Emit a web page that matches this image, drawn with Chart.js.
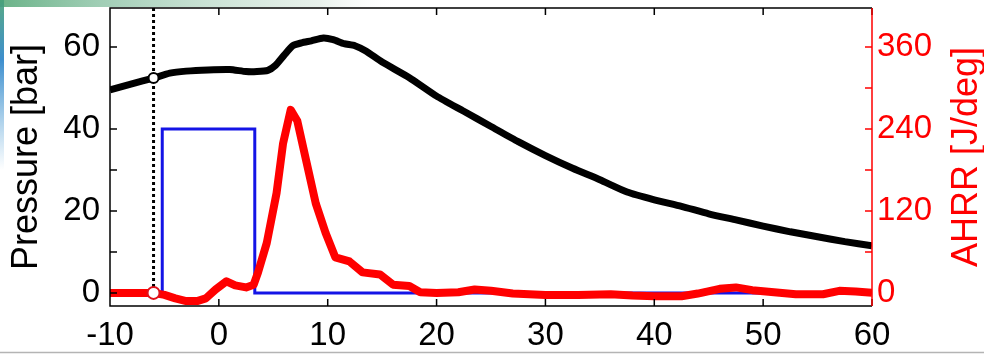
<!DOCTYPE html>
<html>
<head>
<meta charset="utf-8">
<script src="https://cdn.jsdelivr.net/npm/chart.js@4/dist/chart.umd.min.js"></script>
<style>
  body { margin: 0; background: #fff; }
</style>
</head>
<body>
<canvas id="myChart" width="984" height="354"></canvas>
<script>
// crank angle [deg] / cylinder pressure [bar]
const pressureAngle = [-10, -8, -6, -4.5, -3, -1, 1, 2.5, 3.5, 4.5, 5.2, 6, 6.8, 7.6, 8.5, 9.6, 10.5, 11.5, 12.5, 13.5, 15, 17.5, 20, 22.5, 25, 27.5, 30, 32.5, 35, 37.5, 40, 42.5, 45, 47.5, 50, 52.5, 55, 57.5, 60];
const pressureBar = [49.5, 51, 52.4, 53.6, 54.1, 54.4, 54.5, 54.0, 54.0, 54.3, 55.5, 58, 60.3, 61, 61.5, 62.2, 61.8, 60.8, 60.3, 59, 56.3, 52.5, 48.0, 44.3, 40.6, 36.9, 33.5, 30.4, 27.6, 24.6, 22.7, 21.1, 19.3, 17.8, 16.3, 14.9, 13.7, 12.5, 11.5];

// apparent heat release rate [J/deg]
const ahrrAngle = [-10, -6, -5, -4, -3, -2, -1.2, -0.3, 0.7, 1.5, 2.5, 3.2, 3.6, 4.4, 5.3, 5.9, 6.6, 7.2, 8.0, 8.9, 9.8, 10.7, 12.0, 13.2, 14.8, 16.0, 17.5, 18.5, 20, 22, 23.5, 25, 27, 30, 33, 36, 38, 40, 42.5, 44, 46, 47.5, 49, 51, 53, 55.5, 57, 58.5, 60];
const ahrrValue = [0, 0, -3, -8, -12, -12, -8, 5, 17, 11, 8, 12, 30, 73, 146, 219, 268, 252, 195, 131, 88, 52, 46, 30, 27, 12, 10, 1, 0, 1, 5, 3, -1, -3, -3, -2, -4, -5, -5, -1, 6, 8, 4, 1, -2, -2, 3, 2, 0];

// injector command signal, plotted on the pressure axis
const injAngle = [-10, -5.2, -5.2, 3.3, 3.3, 60];
const injSignal = [0, 0, 40, 40, 0, 0];

// start of combustion marker
const socAngle = -6;
const socPressure = 52.4;
const socAhrr = 0;

const angleTicks = [-10, 0, 10, 20, 30, 40, 50, 60];
const pressureTicks = [0, 10, 20, 30, 40, 50, 60];
const pressureLabels = [0, 20, 40, 60];
const ahrrTicks = [0, 60, 120, 180, 240, 300, 360];
const ahrrLabels = [0, 120, 240, 360];

const FONT = "'Liberation Sans', Arial, sans-serif";
const RED = '#ff0000';

const toPoints = (xs, ys) => xs.map((x, i) => ({ x: x, y: ys[i] }));

// fixed axis boxes so the plot area sits where it should
const fixWidth = w => scale => {
  scale.width = w;
  scale.paddingTop = 0;
  scale.paddingBottom = 0;
};
const fixHeight = h => scale => {
  scale.height = h;
  scale.paddingLeft = 0;
  scale.paddingRight = 0;
};

// frame, inward tick marks, right-hand title and the slide background
const frame = {
  id: 'frame',
  beforeDraw(chart) {
    const { ctx, width } = chart;
    ctx.save();
    ctx.fillStyle = '#fff';
    ctx.fillRect(0, 0, width, chart.height);
    let g = ctx.createLinearGradient(0, 0, 400, 0);
    g.addColorStop(0, 'rgba(80,165,115,0.85)');
    g.addColorStop(0.25, 'rgba(120,185,150,0.7)');
    g.addColorStop(0.8, 'rgba(190,215,200,0.35)');
    g.addColorStop(1, 'rgba(255,255,255,0)');
    ctx.fillStyle = g;
    ctx.fillRect(0, 0, 400, 7);
    g = ctx.createLinearGradient(0, 0, 0, 170);
    g.addColorStop(0, 'rgba(70,160,120,0.9)');
    g.addColorStop(0.35, 'rgba(40,130,200,0.9)');
    g.addColorStop(1, 'rgba(60,150,210,0)');
    ctx.fillStyle = g;
    ctx.fillRect(0, 0, 4, 170);
    ctx.strokeStyle = '#b4b4b4';
    ctx.lineWidth = 1.5;
    ctx.beginPath();
    ctx.moveTo(0, 352.5);
    ctx.lineTo(width, 352.5);
    ctx.stroke();
    ctx.restore();
  },
  afterDraw(chart) {
    const { ctx, chartArea: a, scales } = chart;
    const len = 7;
    ctx.save();
    ctx.lineWidth = 1.5;
    ctx.strokeStyle = '#000';
    ctx.beginPath();
    angleTicks.forEach(v => {
      const px = scales.x.getPixelForValue(v);
      ctx.moveTo(px, a.bottom); ctx.lineTo(px, a.bottom - len);
      ctx.moveTo(px, a.top); ctx.lineTo(px, a.top + len);
    });
    pressureTicks.forEach(v => {
      const py = scales.y.getPixelForValue(v);
      ctx.moveTo(a.left, py); ctx.lineTo(a.left + len, py);
    });
    ctx.moveTo(a.right, a.top);
    ctx.lineTo(a.left, a.top);
    ctx.lineTo(a.left, a.bottom);
    ctx.lineTo(a.right, a.bottom);
    ctx.stroke();

    ctx.strokeStyle = RED;
    ctx.beginPath();
    ahrrTicks.forEach(v => {
      const py = scales.y2.getPixelForValue(v);
      ctx.moveTo(a.right, py); ctx.lineTo(a.right - len, py);
    });
    ctx.moveTo(a.right, a.top);
    ctx.lineTo(a.right, a.bottom);
    ctx.stroke();

    // right axis title reads bottom-to-top like the left one
    ctx.translate(977, (a.top + a.bottom) / 2);
    ctx.rotate(-Math.PI / 2);
    ctx.fillStyle = RED;
    ctx.font = '36px ' + FONT;
    ctx.textAlign = 'center';
    ctx.textBaseline = 'alphabetic';
    ctx.fillText('AHRR [J/deg]', 0, 0);
    ctx.restore();
  }
};

new Chart(document.getElementById('myChart'), {
  type: 'line',
  data: {
    datasets: [
      {
        data: [{ x: socAngle, y: socPressure }],
        yAxisID: 'y',
        showLine: false,
        pointRadius: 5,
        pointBackgroundColor: '#fff',
        pointBorderColor: '#000',
        pointBorderWidth: 2
      },
      {
        data: [{ x: socAngle, y: socAhrr }],
        yAxisID: 'y2',
        showLine: false,
        pointRadius: 6,
        pointBackgroundColor: '#fff',
        pointBorderColor: '#e0101a',
        pointBorderWidth: 2
      },
      {
        label: 'Pressure',
        data: toPoints(pressureAngle, pressureBar),
        yAxisID: 'y',
        borderColor: '#000',
        borderWidth: 7,
        pointRadius: 0,
        tension: 0.2
      },
      {
        label: 'AHRR',
        data: toPoints(ahrrAngle, ahrrValue),
        yAxisID: 'y2',
        borderColor: RED,
        borderWidth: 8,
        pointRadius: 0,
        borderJoinStyle: 'round',
        tension: 0
      },
      {
        label: 'Injection',
        data: toPoints(injAngle, injSignal),
        yAxisID: 'y',
        borderColor: '#1414e6',
        borderWidth: 3,
        pointRadius: 0,
        tension: 0
      },
      {
        label: 'SOC',
        data: [{ x: socAngle, y: 69.5 }, { x: socAngle, y: 0 }],
        yAxisID: 'y',
        borderColor: '#000',
        borderWidth: 3,
        borderDash: [3, 3],
        pointRadius: 0
      }
    ]
  },
  options: {
    responsive: false,
    animation: false,
    devicePixelRatio: 1,
    layout: { padding: { top: 8, left: 0, right: 0, bottom: 0 } },
    plugins: { legend: { display: false }, tooltip: { enabled: false } },
    scales: {
      x: {
        type: 'linear',
        min: -10,
        max: 60,
        afterFit: fixHeight(48),
        afterBuildTicks: scale => { scale.ticks = angleTicks.map(v => ({ value: v })); },
        grid: { display: false, drawTicks: false },
        border: { display: false },
        ticks: { padding: 10, color: '#000', font: { family: FONT, size: 33 } }
      },
      y: {
        position: 'left',
        min: -3.2,
        max: 69.5,
        afterFit: fixWidth(110),
        afterBuildTicks: scale => { scale.ticks = pressureTicks.map(v => ({ value: v })); },
        grid: { display: false, drawTicks: false },
        border: { display: false },
        ticks: {
          padding: 10,
          color: '#000',
          font: { family: FONT, size: 33 },
          callback: v => pressureLabels.includes(v) ? String(v) : ''
        },
        title: {
          display: true,
          text: 'Pressure [bar]',
          color: '#000',
          font: { family: FONT, size: 36 },
          padding: { top: 5, bottom: 0 }
        }
      },
      y2: {
        position: 'right',
        min: -19.2,
        max: 417,
        afterFit: fixWidth(112),
        afterBuildTicks: scale => { scale.ticks = ahrrTicks.map(v => ({ value: v })); },
        grid: { display: false, drawTicks: false },
        border: { display: false },
        ticks: {
          padding: 5,
          color: RED,
          font: { family: FONT, size: 33 },
          callback: v => ahrrLabels.includes(v) ? String(v) : ''
        }
      }
    }
  },
  plugins: [frame]
});
</script>
</body>
</html>
